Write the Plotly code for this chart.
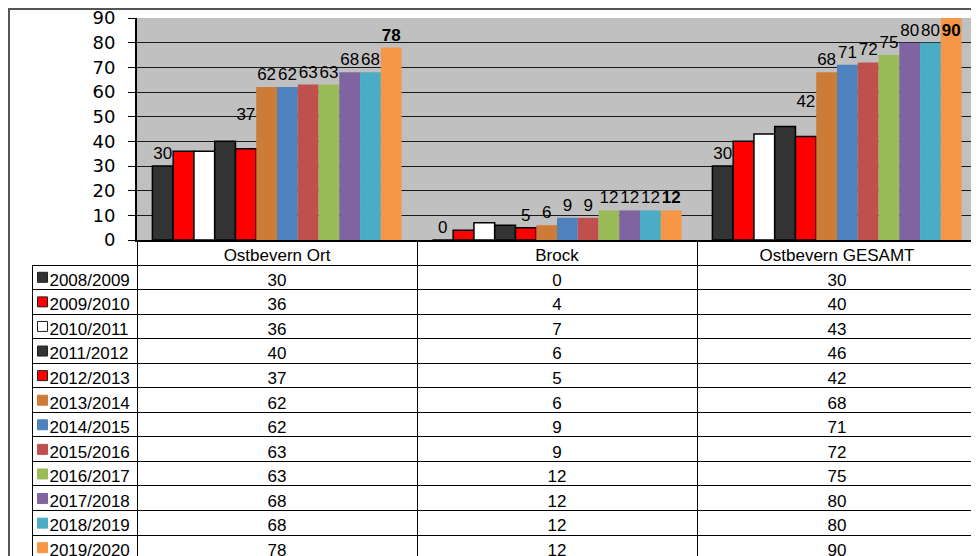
import plotly.graph_objects as go

categories = ["Ostbevern Ort", "Brock", "Ostbevern GESAMT"]
seasons = ["2008/2009", "2009/2010", "2010/2011", "2011/2012", "2012/2013", "2013/2014",
           "2014/2015", "2015/2016", "2016/2017", "2017/2018", "2018/2019", "2019/2020"]
ort = [30, 36, 36, 40, 37, 62, 62, 63, 63, 68, 68, 78]
brock = [0, 4, 7, 6, 5, 6, 9, 9, 12, 12, 12, 12]
gesamt = [30, 40, 43, 46, 42, 68, 71, 72, 75, 80, 80, 90]
y_ticks = [0, 10, 20, 30, 40, 50, 60, 70, 80, 90]

colors = ["#333333", "#FF0000", "#FFFFFF", "#333333", "#FF0000", "#CD7B38",
          "#4F81BD", "#C0504D", "#9BBB59", "#8064A2", "#4BACC6", "#F79646"]
outlined = [True, True, True, True, True, False, False, False, False, False, False, False]
show_label = [True, False, False, False, True, True, True, True, True, True, True, True]
raised_label = [False, False, False, False, True] + [False] * 7
bold_label = [False] * 11 + [True]

W, H = 979, 556
OFF = 8  # the page body margin shifts the figure by 8px


def xp(px):
    return (px - OFF) / W


def yp(py):
    return 1 - (py - OFF) / H


FONT = "Arial, Liberation Sans, sans-serif"
HEADER_H = 25
ROW_H = 24.55

fig = go.Figure()
for i, s in enumerate(seasons):
    vals = [ort[i], brock[i], gesamt[i]]
    texts = []
    for j, v in enumerate(vals):
        if not show_label[i]:
            t = ""
        elif bold_label[i]:
            t = f"<b>{v}</b>"
        else:
            t = str(v)
        if t and raised_label[i] and j != 1:
            t = t + "<br>\u00a0"
        texts.append(t)
    pos = ["outside"] * 3
    if i == len(seasons) - 1:
        pos = ["outside", "outside", "inside"]
    fig.add_trace(go.Bar(
        name=s, x=categories, y=vals,
        marker=dict(color=colors[i],
                    line=dict(color="#000000" if outlined[i] else colors[i],
                              width=1.5 if outlined[i] else 0)),
        text=texts, textposition=pos, insidetextanchor="end",
        textfont=dict(family=FONT, size=17, color="#000000"),
        insidetextfont=dict(family=FONT, size=17, color="#000000"),
        outsidetextfont=dict(family=FONT, size=17, color="#000000"),
        constraintext="none", cliponaxis=False, hoverinfo="skip",
    ))

# data table below the chart
row_labels = ["\u00a0\u00a0" + s for s in seasons]
clear = "rgba(0,0,0,0)"
fig.add_trace(go.Table(
    domain=dict(x=[xp(32), xp(977)], y=[yp(560), yp(240)]),
    columnwidth=[105, 280, 280, 280],
    header=dict(values=[""] + categories, height=HEADER_H,
                fill=dict(color=clear),
                line=dict(color=[clear, "#000000", "#000000", "#000000"], width=1),
                align="center",
                font=dict(family=FONT, size=17, color="#000000")),
    cells=dict(values=[row_labels, ort, brock, gesamt], height=ROW_H,
               fill=dict(color=clear),
               line=dict(color="#000000", width=1),
               align=["left", "center", "center", "center"],
               font=dict(family=FONT, size=17, color="#000000")),
))

# legend keys inside the table's first column
fig.add_trace(go.Scatter(
    x=[0] * len(seasons), y=seasons, mode="markers",
    marker=dict(symbol="square", size=10, color=colors,
                line=dict(color=["#222222" if o else c for o, c in zip(outlined, colors)], width=1)),
    xaxis="x2", yaxis="y2", hoverinfo="skip", showlegend=False, cliponaxis=False,
))

fig.update_layout(
    width=W, height=H,
    margin=dict(l=0, r=0, t=0, b=0, autoexpand=False),
    paper_bgcolor="white", plot_bgcolor="rgba(0,0,0,0)",
    barmode="group", bargap=0.11, bargroupgap=0,
    showlegend=False,
    font=dict(family=FONT, size=17, color="#000000"),
    xaxis=dict(domain=[xp(137), xp(977)], showticklabels=False, showgrid=False,
               showline=True, linecolor="#000000", linewidth=2, ticks="", automargin=False),
    yaxis=dict(domain=[yp(240), yp(18)], range=[0, 90],
               tickvals=y_ticks, ticks="outside", ticklen=7, tickcolor="#000000",
               showline=True, linecolor="#000000", linewidth=2,
               showgrid=True, gridcolor="#1a1a1a", gridwidth=1,
               zeroline=False, ticklabelstandoff=9, automargin=False,
               ticklabeloverflow="allow",
               tickfont=dict(family="DejaVu Sans, Arial, sans-serif", size=18, color="#000000")),
    xaxis2=dict(domain=[xp(37), xp(48)], range=[-0.5, 0.5], visible=False, fixedrange=True),
    yaxis2=dict(domain=[yp(560), yp(265)],
                type="category", categoryorder="array", categoryarray=seasons,
                range=[len(seasons) - 0.5, -0.5], visible=False, fixedrange=True),
    shapes=[
        dict(type="rect", xref="x domain", yref="y domain", x0=0, x1=1, y0=0, y1=1,
             fillcolor="#C0C0C0", line=dict(width=0), layer="below"),
        dict(type="rect", xref="paper", yref="paper",
             x0=xp(9), x1=xp(978), y0=-0.05, y1=yp(9),
             line=dict(color="#555555", width=2), layer="above"),
    ],
)

fig.write_html("out.html")
